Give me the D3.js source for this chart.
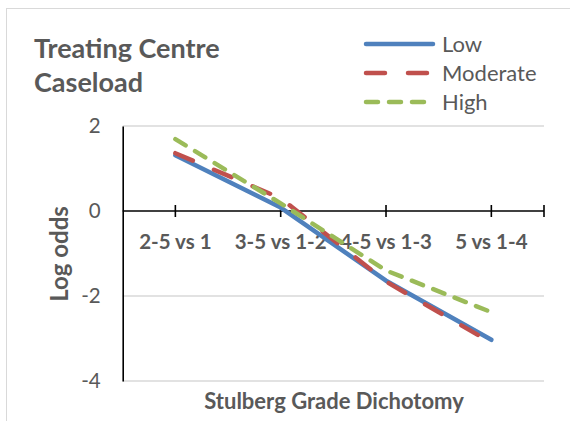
<!DOCTYPE html>
<html><head><meta charset="utf-8">
<script src="https://cdn.jsdelivr.net/npm/d3@7"></script>
<style>body{margin:0;background:#fff}svg{display:block}text{font-family:Lato,"Open Sans",sans-serif}</style>
</head><body><svg id="c" width="570" height="421"></svg>
<script>
const categories = ["2-5 vs 1","3-5 vs 1-2","4-5 vs 1-3","5 vs 1-4"];
const lowValues = [1.31, 0.08, -1.64, -3.03];
const moderateValues = [1.36, 0.30, -1.66, -3.10];
const highValues = [1.69, 0.18, -1.40, -2.38];
const yTicks = [2, 0, -2, -4];
const seriesNames = ["Low","Moderate","High"];
const series = [
  {name: seriesNames[0], values: lowValues, color: "#4f81bd", dash: null},
  {name: seriesNames[1], values: moderateValues, color: "#c0504d", dash: "19,23"},
  {name: seriesNames[2], values: highValues, color: "#9bbb59", dash: "12,11"}
];

const svg = d3.select("#c");
const L = 122.7, R = 544, T = 126, B = 381;
const x = d3.scalePoint().domain(categories).range([L, R]).padding(0.5);
const y = d3.scaleLinear().domain([-4, 2]).range([B, T]);
const grey = "#595959";

// chart border
svg.append("rect").attr("x", 6.5).attr("y", 8.5).attr("width", 600).attr("height", 500)
  .attr("fill", "none").attr("stroke", "#d9d9d9").attr("stroke-width", 1);

// gridlines
svg.append("g").selectAll("line").data(yTicks.filter(d => d !== 0)).join("line")
  .attr("x1", L).attr("x2", R).attr("y1", d => y(d)).attr("y2", d => y(d))
  .attr("stroke", "#d9d9d9").attr("stroke-width", 1.3);

// y axis
const yAxis = d3.axisLeft(y).tickValues(yTicks).tickSize(0).tickPadding(22).tickFormat(d => String(d));
const gy = svg.append("g").attr("transform", `translate(${L},0)`).call(yAxis);
gy.select(".domain").attr("stroke", "#000").attr("stroke-width", 1.6);
gy.selectAll("text").attr("font-size", 20.5).attr("fill", grey).style("font-family", "Lato, 'Open Sans', sans-serif");

// x axis at y=0
const y0 = y(0);
svg.append("line").attr("x1", L).attr("x2", R).attr("y1", y0).attr("y2", y0).attr("stroke", "#000").attr("stroke-width", 1.6);
const tickXs = categories.map(c => x(c)).concat([R]);
svg.append("g").selectAll("line").data(tickXs).join("line")
  .attr("x1", d => d).attr("x2", d => d).attr("y1", y0 - 6).attr("y2", y0 + 6)
  .attr("stroke", "#000").attr("stroke-width", 1.6);
svg.append("g").selectAll("text").data(categories).join("text")
  .attr("x", d => x(d)).attr("y", 249).attr("text-anchor", "middle")
  .attr("font-size", 20.5).attr("font-weight", "bold").attr("fill", grey).text(d => d);

// lines
const line = d3.line().x((d, i) => x(categories[i])).y(d => y(d));
svg.append("g").selectAll("path").data(series).join("path")
  .attr("d", d => line(d.values)).attr("fill", "none")
  .attr("stroke", d => d.color).attr("stroke-width", 4.5)
  .attr("stroke-linecap", "round").attr("stroke-linejoin", "round")
  .attr("stroke-dasharray", d => d.dash);

// axis titles
svg.append("text").attr("transform", `translate(68,${254}) rotate(-90)`)
  .attr("text-anchor", "middle").attr("font-size", 24).attr("font-weight", "bold").attr("fill", grey).text("Log odds");
svg.append("text").attr("x", 334).attr("y", 409).attr("text-anchor", "middle")
  .attr("font-size", 22).attr("font-weight", "bold").attr("fill", grey).text("Stulberg Grade Dichotomy");

// title
const title = svg.append("text").attr("font-size", 27).attr("font-weight", "bold").attr("fill", grey);
title.append("tspan").attr("x", 34).attr("y", 58).text("Treating Centre");
title.append("tspan").attr("x", 34).attr("y", 92).text("Caseload");

// legend
const lg = svg.append("g").selectAll("g").data(series).join("g")
  .attr("transform", (d, i) => `translate(0,${44 + i * 29})`);
lg.append("line").attr("x1", 366).attr("x2", 433).attr("y1", 0).attr("y2", 0)
  .attr("stroke", d => d.color).attr("stroke-width", 4.5).attr("stroke-linecap", "round")
  .attr("stroke-dasharray", d => d.dash);
lg.append("text").attr("x", 442).attr("y", 0).attr("dy", "0.35em")
  .attr("font-size", 22).attr("fill", grey).text(d => d.name);
</script></body></html>
